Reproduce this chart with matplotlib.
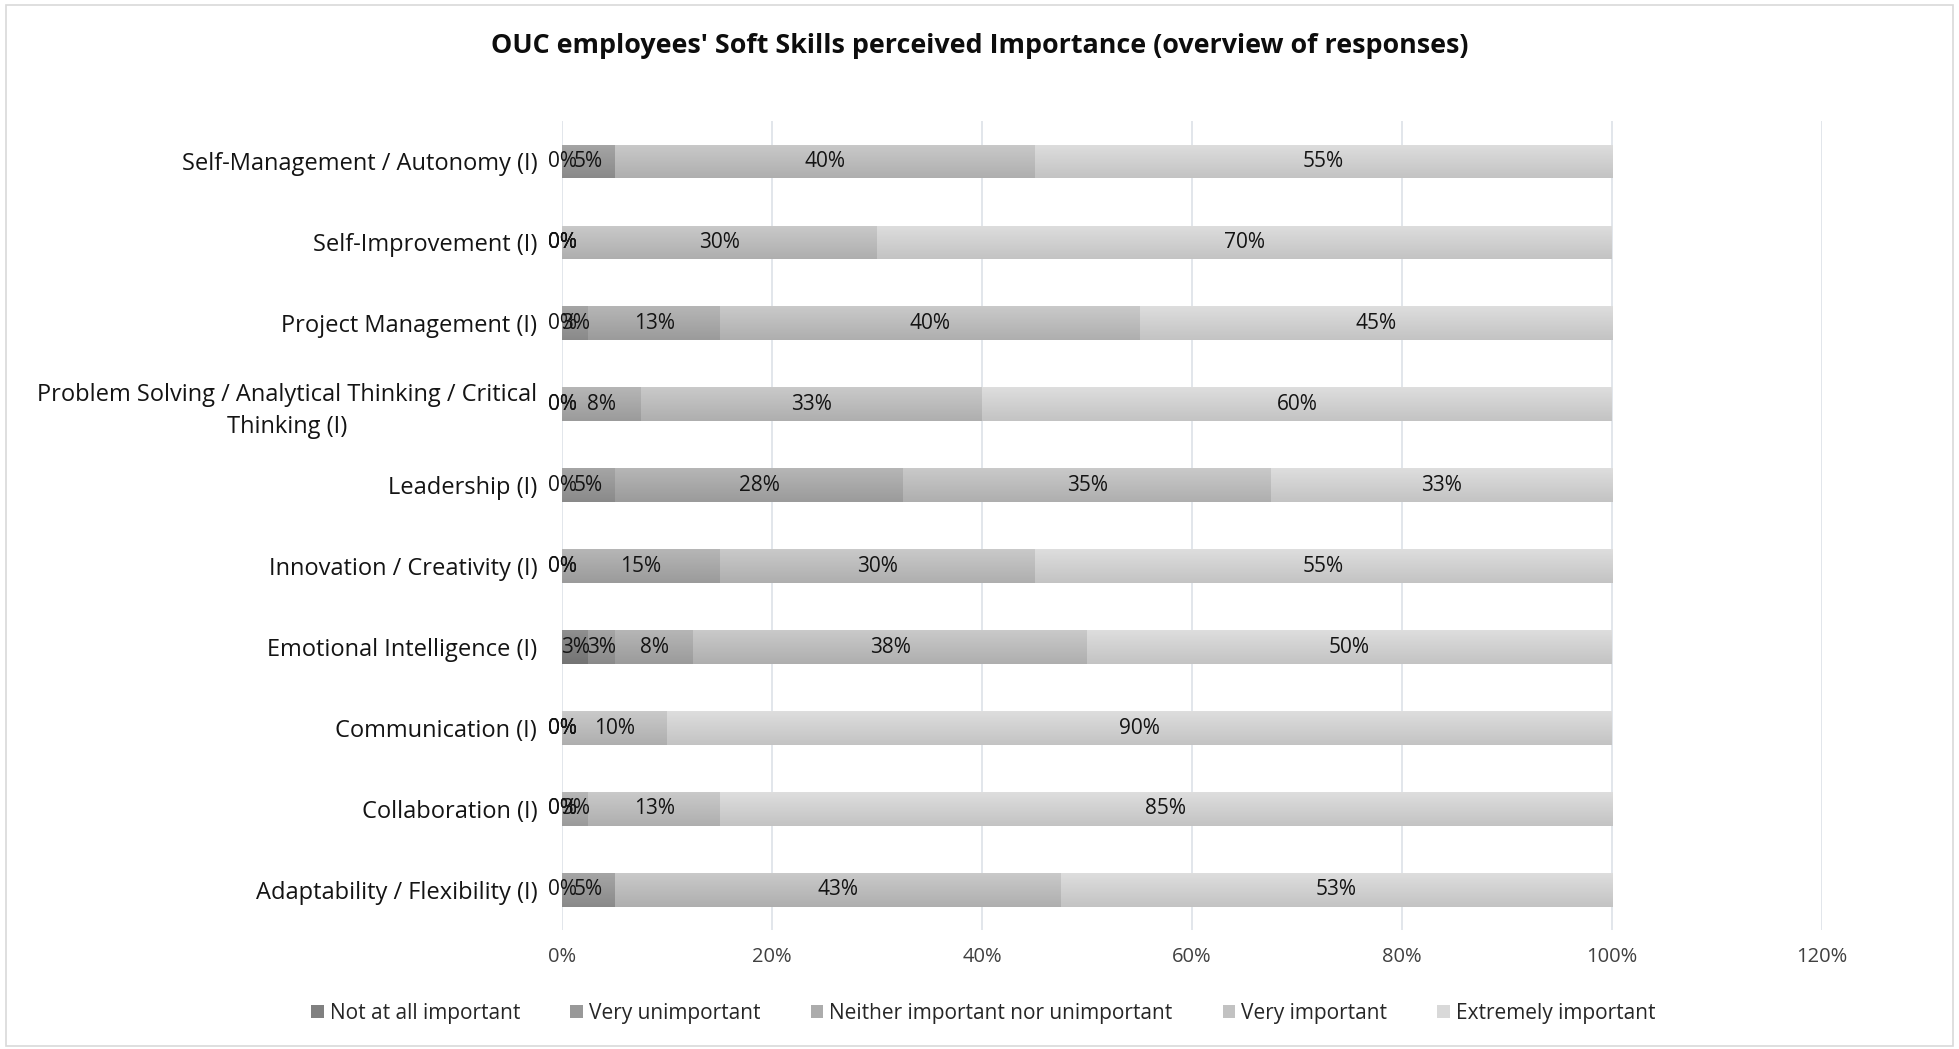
import numpy as np
import matplotlib.pyplot as plt
from matplotlib.colors import to_rgb
from matplotlib.patches import Patch, Rectangle
from matplotlib.ticker import FuncFormatter
import math

plt.rcParams['font.family'] = ['Open Sans', 'DejaVu Sans']

skills = ['Adaptability / Flexibility (I)', 'Collaboration (I)', 'Communication (I)',
          'Emotional Intelligence (I)', 'Innovation / Creativity (I)', 'Leadership (I)',
          'Problem Solving / Analytical Thinking / Critical\nThinking (I)',
          'Project Management (I)', 'Self-Improvement (I)', 'Self-Management / Autonomy (I)']

# share of responses, percent
not_at_all = [0, 0, 0, 2.5, 0, 0, 0, 0, 0, 0]
very_unimp = [5, 0, 0, 2.5, 0, 5, 0, 2.5, 0, 5]
neither = [0, 2.5, 0, 7.5, 15, 27.5, 7.5, 12.5, 0, 0]
very_imp = [42.5, 12.5, 10, 37.5, 30, 35, 32.5, 40, 30, 40]
extremely = [52.5, 85, 90, 50, 55, 32.5, 60, 45, 70, 55]

series_names = ['Not at all important', 'Very unimportant',
                'Neither important nor unimportant', 'Very important', 'Extremely important']
colors = ['#808080', '#999999', '#acacac', '#c2c2c2', '#d9d9d9']

fig = plt.figure(figsize=(19.59, 10.49), dpi=100)
ax = fig.add_axes([0.287, 0.113, 0.643, 0.772])

def shade(c, f):
    r = np.array(to_rgb(c))
    if f > 0:
        return r + (1 - r) * f
    return r * (1 + f)

data = [not_at_all, very_unimp, neither, very_imp, extremely]
y = np.arange(len(skills))
left = np.zeros(len(skills))
for vals, col in zip(data, colors):
    vals = np.array(vals, dtype=float)
    bars = ax.barh(y, vals, left=left, height=0.41, color=col, linewidth=0, zorder=2)
    # vertical gradient like the excel fill
    top = shade(col, 0.12)
    bot = shade(col, -0.10)
    grad = np.linspace(0, 1, 64)[:, None, None] * (bot - top) + top
    grad = np.repeat(grad, 2, axis=1)
    for b in bars:
        if b.get_width() <= 0:
            continue
        x0, y0 = b.get_x(), b.get_y()
        im = ax.imshow(grad, extent=[x0, x0 + b.get_width(), y0, y0 + b.get_height()],
                       origin='upper', aspect='auto', zorder=3, interpolation='bilinear')
        im.set_clip_path(b)
    for i, v in enumerate(vals):
        if v == 0 and left[i] > 0:
            continue
        ax.text(left[i] + v / 2, y[i], '%d%%' % math.floor(v + 0.5), ha='center', va='center',
                fontsize=15, color='#141414', zorder=5)
    left += vals

ax.set_xlim(0, 120)
ax.set_ylim(-0.5, len(skills) - 0.5)
ax.set_xticks(np.arange(0, 121, 20))
ax.xaxis.set_major_formatter(FuncFormatter(lambda v, p: '%d%%' % v))
ax.set_yticks(y)
ax.set_yticklabels(skills, fontsize=17, color='#141414')
ax.tick_params(axis='x', labelsize=14.5, colors='#404040', length=0, pad=12)
ax.tick_params(axis='y', length=0, pad=18)
for lbl in ax.get_yticklabels():
    lbl.set_multialignment('center')
    lbl.set_linespacing(1.45)
ax.grid(axis='x', color='#dde1e8', linewidth=1.2, zorder=0)
for s in ax.spines.values():
    s.set_visible(False)

fig.text(0.5, 0.956, "OUC employees' Soft Skills perceived Importance (overview of responses)",
         ha='center', va='center', fontsize=19.4, fontweight='bold', color='#0d0d0d')

handles = [Patch(facecolor=c, label=n) for n, c in zip(series_names, colors)]
fig.legend(handles=handles, loc='center', bbox_to_anchor=(0.502, 0.034), ncol=5, frameon=False,
           fontsize=15, handlelength=0.6, handleheight=0.6, handletextpad=0.3, columnspacing=2.4,
           labelcolor='#262626')

fig.patches.append(Rectangle((0.003, 0.003), 0.994, 0.992, transform=fig.transFigure,
                             fill=False, edgecolor='#d9d9d9', linewidth=1.2))

fig.savefig('out.png', dpi=100)
